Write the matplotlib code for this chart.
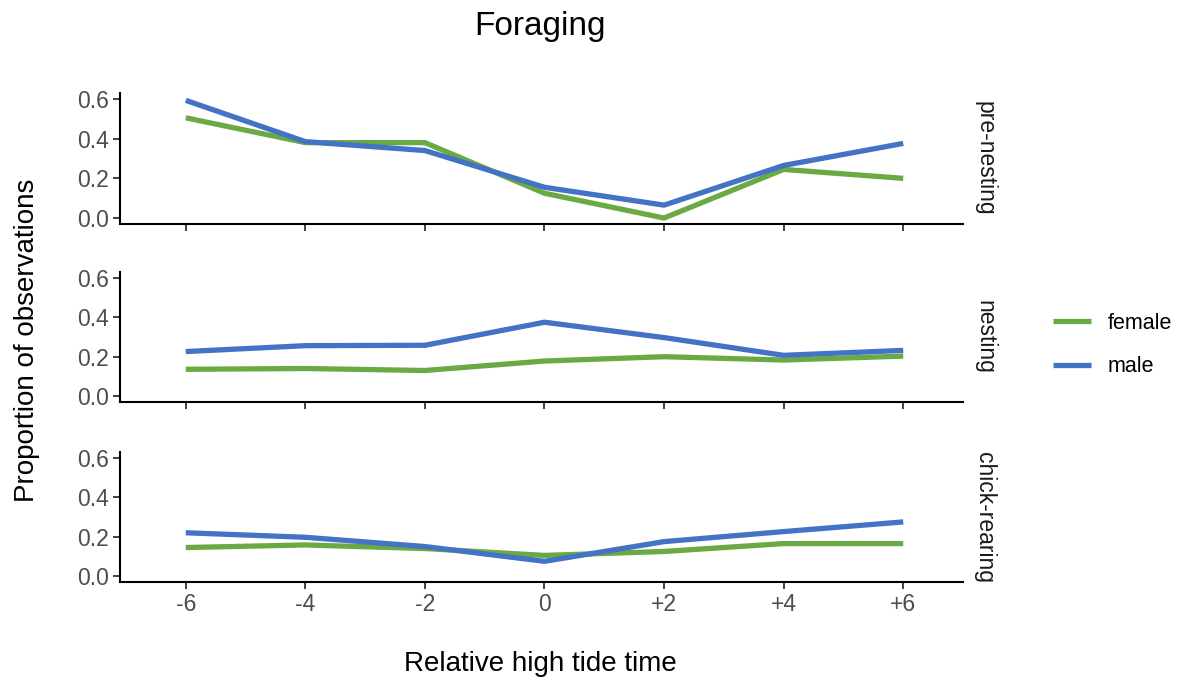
import matplotlib.pyplot as plt

plt.rcParams["font.family"] = ["Liberation Sans", "DejaVu Sans"]

tide_time = [-6, -4, -2, 0, 2, 4, 6]
tick_labels = ["-6", "-4", "-2", "0", "+2", "+4", "+6"]
stages = ["pre-nesting", "nesting", "chick-rearing"]

female = {
    "pre-nesting": [0.505, 0.38, 0.38, 0.125, 0.0, 0.245, 0.2],
    "nesting": [0.136, 0.14, 0.13, 0.178, 0.2, 0.183, 0.203],
    "chick-rearing": [0.145, 0.158, 0.14, 0.105, 0.125, 0.165, 0.165],
}
male = {
    "pre-nesting": [0.593, 0.385, 0.34, 0.155, 0.065, 0.265, 0.376],
    "nesting": [0.226, 0.256, 0.258, 0.375, 0.297, 0.207, 0.232],
    "chick-rearing": [0.22, 0.197, 0.15, 0.075, 0.175, 0.226, 0.275],
}

GREEN = "#6aaa45"
BLUE = "#4472c4"

fig = plt.figure(figsize=(11.81, 6.81), dpi=100)
W, H = 1181, 681
left, right = 120 / W, 963 / W
panel_px = [(93, 224), (272, 402), (452, 582)]

for i, stage in enumerate(stages):
    top, bot = panel_px[i]
    ax = fig.add_axes([left, 1 - bot / H, right - left, (bot - top) / H])
    ax.plot(tide_time, female[stage], color=GREEN, lw=3.8, label="female",
            solid_capstyle="butt")
    ax.plot(tide_time, male[stage], color=BLUE, lw=3.8, label="male",
            solid_capstyle="butt")
    ax.set_xlim(-7.1, 7.0)
    ax.set_ylim(-0.03, 0.63)
    ax.set_yticks([0.0, 0.2, 0.4, 0.6])
    ax.set_yticklabels(["0.0", "0.2", "0.4", "0.6"])
    ax.set_xticks(tide_time)
    if i == 2:
        ax.set_xticklabels(tick_labels)
    else:
        ax.set_xticklabels([])
    for s in ["top", "right"]:
        ax.spines[s].set_visible(False)
    for s in ["left", "bottom"]:
        ax.spines[s].set_linewidth(1.5)
    ax.tick_params(axis="both", length=5, width=1.3, color="#333333",
                   labelsize=16.5, labelcolor="#4d4d4d", pad=3)
    ax.text(1.012, 0.5, stage, transform=ax.transAxes, rotation=-90,
            ha="left", va="center", fontsize=16.5, color="#1a1a1a")
    if i == 0:
        handles, labels = ax.get_legend_handles_labels()

fig.text(540 / W, 1 - 27 / H, "Foraging", ha="center", va="center", fontsize=24)
fig.text(540 / W, 1 - 664 / H, "Relative high tide time", ha="center",
         va="center", fontsize=20)
fig.text(27 / W, 1 - 340 / H, "Proportion of observations", ha="center",
         va="center", rotation=90, fontsize=20)

fig.legend(handles, labels, loc="center left",
           bbox_to_anchor=(1053 / W, 1 - 345 / H),
           frameon=False, fontsize=15.5, handlelength=1.75, labelspacing=1.05,
           handletextpad=0.8, borderpad=0, borderaxespad=0)

fig.savefig("out.png", dpi=100)
